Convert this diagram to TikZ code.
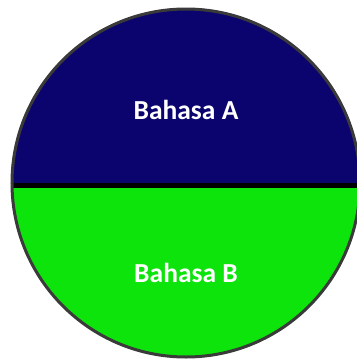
\documentclass[tikz,border=0pt]{standalone}
\usepackage{fontspec}
\setmainfont{Carlito}
\definecolor{topblue}{RGB}{12,4,110}
\definecolor{botgreen}{RGB}{12,228,12}
\definecolor{rimgray}{RGB}{58,58,58}
\begin{document}
\begin{tikzpicture}[x=1pt,y=-1pt,
  label/.style={text=white,font=\bfseries\fontsize{27.5}{32}\selectfont,inner sep=0pt}]
\useasboundingbox (0,0) rectangle (357,360);
\clip (0,0) rectangle (357,360);
\coordinate (c) at (186,183);
\fill[botgreen] (c) ++(-175,0) arc[start angle=180,end angle=0,radius=175] -- cycle;
\fill[topblue] (c) ++(-175,0) arc[start angle=180,end angle=360,radius=175] -- cycle;
\draw[black,line width=5pt] (11,185.5) -- (361,185.5);
\draw[rimgray,line width=3pt] (c) circle[radius=174];
\node[label] (a) at (186,110) {Bahasa A};
\node[label] (b) at (186,273) {Bahasa B};
\end{tikzpicture}
\end{document}
